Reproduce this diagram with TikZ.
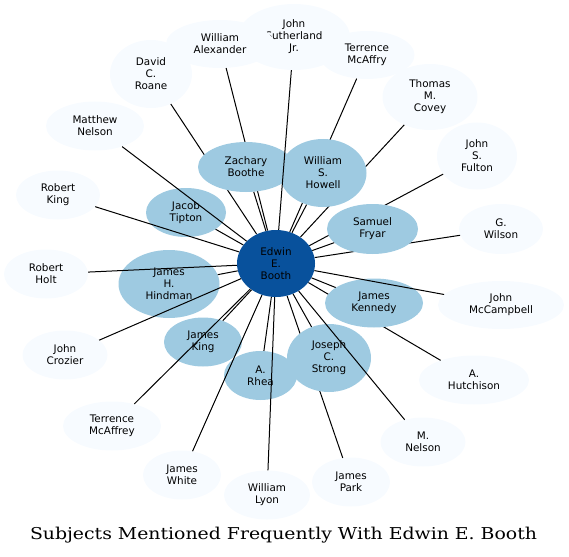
\documentclass[tikz,border=0pt]{standalone}
\usepackage{graphicx}
\usepackage{fontspec}
\setmainfont{DejaVu Sans}
\newfontfamily\titlefont{DejaVu Serif}
\usetikzlibrary{shapes.geometric}
\pgfdeclarelayer{leaves}
\pgfdeclarelayer{hidden}
\pgfdeclarelayer{front}
\pgfsetlayers{leaves,hidden,main,front}
\definecolor{leaffill}{HTML}{F7FBFF}
\definecolor{midfill}{HTML}{9ECAE1}
\definecolor{hubfill}{HTML}{08519C}
\tikzset{
  base/.style={ellipse, inner sep=0pt, align=center, font=\fontsize{10.4}{12}\selectfont, text=black},
  leaf/.style={base, fill=leaffill},
  mid/.style={base, fill=midfill},
  hub/.style={base, fill=hubfill},
  edge/.style={draw=black, line width=1pt},
  sz/.style 2 args={minimum width=#1pt, minimum height=#2pt},
}
\begin{document}
\begin{tikzpicture}[x=1pt,y=-1pt]
\useasboundingbox (0,0) rectangle (569,556);
\begin{pgfonlayer}{leaves}
\node[leaf,sz={112}{66}] (sutherland) at (294,37) {John\\Sutherland\\Jr.};
\node[leaf,sz={82}{68}] (roane) at (151,74) {David\\C.\\Roane};
\node[leaf,sz={108}{48}] (walexander) at (220,44) {William\\Alexander};
\node[leaf,sz={95}{48}] (tmcaffry) at (367,55) {Terrence\\McAffry};
\node[leaf,sz={95}{66}] (covey) at (430,97) {Thomas\\M.\\Covey};
\node[leaf,sz={98}{49}] (mattnelson) at (95,126) {Matthew\\Nelson};
\node[leaf,sz={80}{67}] (fulton) at (477,156) {John\\S.\\Fulton};
\node[leaf,sz={84}{49}] (rking) at (58,195) {Robert\\King};
\node[leaf,sz={84}{50}] (wilson) at (501,229) {G.\\Wilson};
\node[leaf,sz={84}{49}] (holt) at (46,274) {Robert\\Holt};
\node[leaf,sz={126}{48}] (mccampbell) at (501,305) {John\\McCampbell};
\node[leaf,sz={85}{49}] (crozier) at (65,355) {John\\Crozier};
\node[leaf,sz={110}{49}] (hutchison) at (474,380) {A.\\Hutchison};
\node[leaf,sz={98}{49}] (tmcaffrey) at (112,426) {Terrence\\McAffrey};
\node[leaf,sz={85}{49}] (mnelson) at (423,442) {M.\\Nelson};
\node[leaf,sz={78}{49}] (jwhite) at (182,475) {James\\White};
\node[leaf,sz={78}{49}] (jpark) at (351,482) {James\\Park};
\node[leaf,sz={86}{49}] (wlyon) at (267,495) {William\\Lyon};
\end{pgfonlayer}
\node[hub,sz={78}{67}] (edwin) at (276,263.5) {Edwin\\E.\\Booth};
\node[mid,sz={96}{50}] (zachary) at (246,167) {Zachary\\Boothe};
\node[mid,sz={87}{68}] (howell) at (323,173) {William\\S.\\Howell};
\node[mid,sz={80}{49}] (tipton) at (186,212.5) {Jacob\\Tipton};
\node[mid,sz={91}{50}] (fryar) at (372.5,229) {Samuel\\Fryar};
\node[mid,sz={101}{68}] (hindman) at (169,284) {James\\H.\\Hindman};
\node[mid,sz={98}{49}] (kennedy) at (374,303) {James\\Kennedy};
\node[mid,sz={78}{49}] (jking) at (203,342) {James\\King};
\node[mid,sz={84}{68}] (strong) at (329,358) {Joseph\\C.\\Strong};
\node[mid,sz={73}{49}] (rhea) at (260.5,375.5) {A.\\Rhea};
\begin{pgfonlayer}{hidden}
\draw[edge] (roane) -- (edwin);
\draw[edge] (walexander) -- (edwin);
\draw[edge] (tmcaffry) -- (edwin);
\draw[edge] (covey) -- (edwin);
\draw[edge] (fulton) -- (edwin);
\draw[edge] (wilson) -- (edwin);
\draw[edge] (hutchison) -- (edwin);
\draw[edge] (jpark) -- (edwin);
\end{pgfonlayer}
\begin{pgfonlayer}{front}
\draw[edge] (sutherland) -- (edwin);
\draw[edge] (mattnelson) -- (edwin);
\draw[edge] (rking) -- (edwin);
\draw[edge] (holt) -- (edwin);
\draw[edge] (mccampbell) -- (edwin);
\draw[edge] (crozier) -- (edwin);
\draw[edge] (tmcaffrey) -- (edwin);
\draw[edge] (mnelson) -- (edwin);
\draw[edge] (jwhite) -- (edwin);
\draw[edge] (wlyon) -- (edwin);
\draw[edge] (zachary) -- (edwin);
\draw[edge] (howell) -- (edwin);
\draw[edge] (tipton) -- (edwin);
\draw[edge] (fryar) -- (edwin);
\draw[edge] (hindman) -- (edwin);
\draw[edge] (kennedy) -- (edwin);
\draw[edge] (jking) -- (edwin);
\draw[edge] (strong) -- (edwin);
\draw[edge] (rhea) -- (edwin);
\end{pgfonlayer}
\node[font=\titlefont\fontsize{16.3}{19}\selectfont, inner sep=0pt] (title) at (283.5,535) {\scalebox{1.157}[1]{Subjects Mentioned Frequently With Edwin E. Booth}};
\end{tikzpicture}
\end{document}
